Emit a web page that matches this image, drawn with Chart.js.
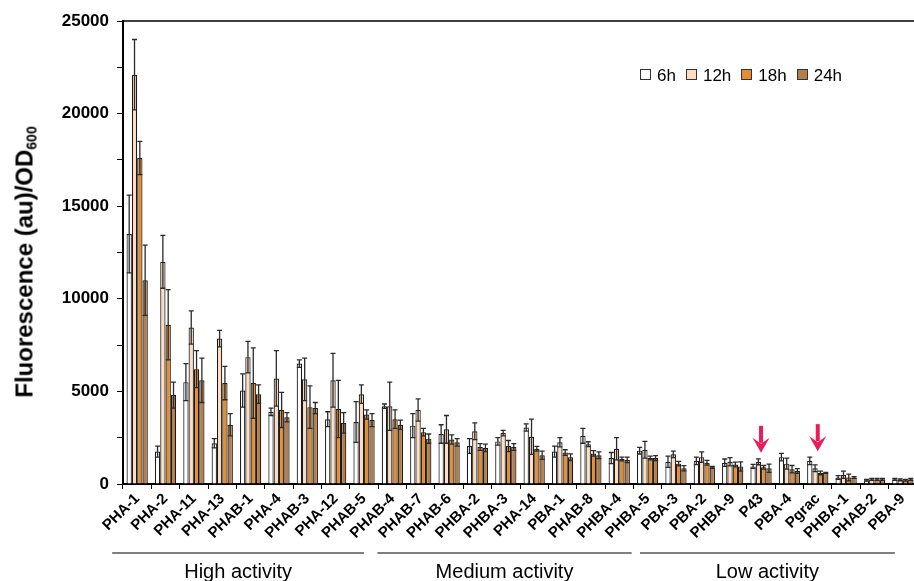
<!DOCTYPE html>
<html>
<head>
<meta charset="utf-8">
<script src="https://cdn.jsdelivr.net/npm/chart.js@4/dist/chart.umd.min.js"></script>
<style>
  html, body { margin: 0; padding: 0; background: #fff; overflow: hidden; width: 914px; height: 581px; }
  #wrap { position: absolute; left: 0; top: 0; width: 918px; height: 581px; }
  #ytitle { position: absolute; left: 25px; top: 262px; transform: translate(-50%, -50%) rotate(-90deg);
    font: bold 24px "Liberation Sans", Arial, sans-serif; white-space: nowrap; color: #000; }
  #ytitle sub { font-size: 14px; vertical-align: -4px; }
  #legend { position: absolute; left: 640px; top: 66px; font: 17px "Liberation Sans", Arial, sans-serif; color: #000; white-space: nowrap; }
  #legend .item { display: inline-block; margin-right: 10px; }
  #legend .box { display: inline-block; width: 9px; height: 9px; border: 1px solid #333; margin-right: 6px; vertical-align: 1px; }
</style>
</head>
<body>
<div id="wrap"><canvas id="c" width="918" height="581"></canvas></div>
<div id="ytitle">Fluorescence (au)/OD<sub>600</sub></div>
<div id="legend"></div>
<script>
const categories = ['PHA-1','PHA-2','PHA-11','PHA-13','PHAB-1','PHA-4','PHAB-3','PHA-12','PHAB-5','PHAB-4','PHAB-7','PHAB-6','PHBA-2','PHBA-3','PHA-14','PBA-1','PHAB-8','PHBA-4','PHBA-5','PBA-3','PBA-2','PHBA-9','P43','PBA-4','Pgrac','PHBA-1','PHAB-2','PBA-9'];
const seriesNames = ['6h','12h','18h','24h'];
const h6  = [13500,1750,5500,2200,5050,3900,6500,3500,3350,4200,3150,2700,2050,2300,3050,1750,2600,1400,1800,1200,1250,1150,950,1450,1250,350,200,250];
const h12 = [22100,12000,8450,7850,6850,5700,5650,5600,4850,4200,4000,2950,2850,2750,2550,2250,2150,1900,1850,1600,1450,1200,1200,1100,850,500,250,220];
const h18 = [17600,8600,6200,5450,5450,4000,4150,4050,3750,3500,2800,2400,2000,2050,1900,1700,1650,1350,1400,1100,1150,1050,900,800,600,350,250,200];
const h24 = [11000,4800,5600,3200,4850,3600,4100,3300,3450,3200,2450,2250,1950,2000,1550,1450,1550,1300,1400,850,900,950,850,700,600,350,250,250];
const e6  = [2100,300,1000,250,900,200,200,400,1100,120,650,500,400,200,200,300,400,300,180,300,200,200,110,200,200,100,50,50];
const e12 = [1900,1430,900,450,850,1500,1150,1450,500,1300,600,750,450,150,950,250,130,600,450,180,280,220,160,300,180,200,50,50];
const e18 = [900,1900,1000,900,1900,950,1150,1550,250,500,200,250,180,300,130,150,150,100,100,120,130,130,100,200,100,180,50,50];
const e24 = [1900,700,1200,600,500,250,300,550,350,250,250,200,200,180,220,180,180,150,130,140,50,250,220,130,30,50,50,50];
const yTicksMajor = [0,5000,10000,15000,20000,25000];
const groups = [
  {label:'High activity', from:'PHA-1', to:'PHAB-5'},
  {label:'Medium activity', from:'PHAB-4', to:'PHBA-5'},
  {label:'Low activity', from:'PBA-3', to:'PBA-9'}
];
const arrowTargets = ['P43','Pgrac'];

const colors = ['#ffffff','#fcdcc2','#e48c30','#b47e4c'];
const values = [h6,h12,h18,h24];
const errors = [e6,e12,e18,e24];

const leg = document.getElementById('legend');
seriesNames.forEach((n,i)=>{
  const s = document.createElement('span'); s.className='item';
  s.innerHTML = '<span class="box" style="background:'+colors[i]+'"></span>'+n;
  leg.appendChild(s);
});

const FONT = '"Liberation Sans", Arial, sans-serif';

const decor = {
  id: 'decor',
  afterDatasetsDraw(chart) {
    const ctx = chart.ctx, ca = chart.chartArea;
    const x = chart.scales.x, y = chart.scales.y;
    ctx.save();
    ctx.strokeStyle = '#2a2a2a'; ctx.lineWidth = 1.3;
    chart.data.datasets.forEach((ds, i) => {
      const meta = chart.getDatasetMeta(i);
      meta.data.forEach((el, j) => {
        const v = ds.data[j], e = errors[i][j];
        const yt = y.getPixelForValue(v + e), yb = y.getPixelForValue(Math.max(0, v - e));
        const cx = el.x;
        ctx.beginPath();
        ctx.moveTo(cx, yt); ctx.lineTo(cx, yb);
        ctx.moveTo(cx - 2.5, yt); ctx.lineTo(cx + 2.5, yt);
        ctx.moveTo(cx - 2.5, yb); ctx.lineTo(cx + 2.5, yb);
        ctx.stroke();
      });
    });
    ctx.restore();
    ctx.save();
    ctx.strokeStyle = '#000'; ctx.lineWidth = 1.5;
    ctx.beginPath(); ctx.moveTo(ca.left - 1, ca.top); ctx.lineTo(chart.width, ca.top); ctx.stroke();
    ctx.restore();
    ctx.save();
    ctx.fillStyle = '#ec1c5a';
    arrowTargets.forEach(name => {
      const idx = categories.indexOf(name);
      let maxV = 0;
      values.forEach((arr, i) => { maxV = Math.max(maxV, arr[idx] + errors[i][idx]); });
      const cx = x.getPixelForValue(idx);
      const tip = y.getPixelForValue(maxV) - 6;
      const top = tip - 27;
      ctx.fillRect(cx - 2, top, 4, 17);
      ctx.beginPath();
      ctx.moveTo(cx - 8.5, tip - 15); ctx.lineTo(cx, tip - 9); ctx.lineTo(cx + 8.5, tip - 15); ctx.lineTo(cx, tip);
      ctx.closePath(); ctx.fill();
    });
    ctx.restore();
    const offs = [[-25, 0], [-15, -16], [-36, -8]];
    ctx.save();
    groups.forEach((g, k) => {
      const x1 = x.getPixelForValue(categories.indexOf(g.from)) + offs[k][0];
      const x2 = x.getPixelForValue(categories.indexOf(g.to)) + offs[k][1];
      ctx.strokeStyle = '#555'; ctx.lineWidth = 1.5;
      ctx.beginPath(); ctx.moveTo(x1, 553); ctx.lineTo(x2, 553); ctx.stroke();
      ctx.fillStyle = '#000'; ctx.font = '20px ' + FONT;
      ctx.textAlign = 'center'; ctx.textBaseline = 'middle';
      ctx.fillText(g.label, (x1 + x2) / 2, 572);
    });
    ctx.restore();
  }
};

new Chart(document.getElementById('c'), {
  type: 'bar',
  data: {
    labels: categories,
    datasets: seriesNames.map((n, i) => ({
      label: n, data: values[i], backgroundColor: colors[i],
      borderColor: '#1a1a1a', borderWidth: 1.2,
      categoryPercentage: 0.75, barPercentage: 1.0
    }))
  },
  options: {
    responsive: false, animation: false, devicePixelRatio: 1,
    layout: { padding: { top: 21, left: 0, right: 1, bottom: 0 } },
    plugins: { legend: { display: false }, tooltip: { enabled: false } },
    scales: {
      x: {
        grid: { display: true, drawOnChartArea: false, drawTicks: true, tickLength: 5, color: '#000', offset: true },
        border: { display: true, color: '#000', width: 2 },
        ticks: { color: '#000', font: { family: FONT, size: 15, weight: 'bold' }, minRotation: 45, maxRotation: 45, autoSkip: false, padding: 1 },
        afterFit(s) { s.height = 97; }
      },
      y: {
        min: 0, max: 25000,
        grid: { display: true, drawOnChartArea: false, drawTicks: true, tickLength: 6, color: '#000' },
        border: { display: true, color: '#000', width: 2 },
        ticks: { stepSize: 2500, color: '#000', padding: 8, font: { family: FONT, size: 17, weight: 'bold' },
          callback: (v) => yTicksMajor.includes(v) ? String(v) : '' },
        afterFit(s) { s.width = 123; }
      }
    }
  },
  plugins: [decor]
});
</script>
</body>
</html>
